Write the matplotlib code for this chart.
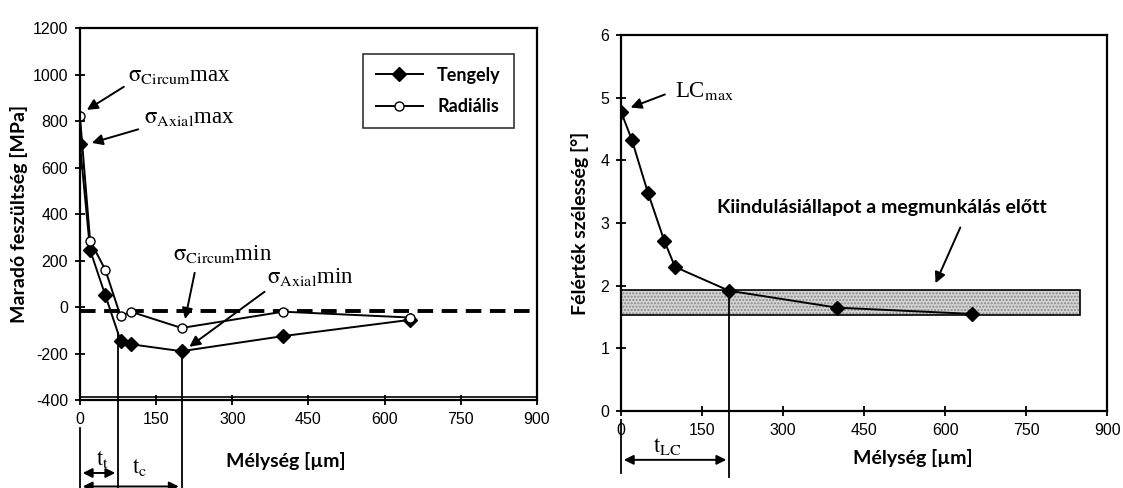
import matplotlib.pyplot as plt
from matplotlib.patches import Rectangle

plt.rcParams['mathtext.fontset'] = 'stix'
plt.rcParams['axes.unicode_minus'] = False

# --- bal oldali diagram: maradó feszültség ---
depth_t = [0, 20, 50, 80, 100, 200, 400, 650]
tengely = [700, 245, 50, -145, -160, -190, -125, -55]
depth_r = [0, 20, 50, 80, 100, 200, 400, 650]
radialis = [820, 285, 160, -40, -20, -90, -20, -45]
zero_line = -15
t_t = 75
t_c = 200

# --- jobb oldali diagram: félérték szélesség ---
depth_lc = [0, 20, 50, 80, 100, 200, 400, 650]
felertek = [4.78, 4.33, 3.48, 2.72, 2.3, 1.92, 1.65, 1.55]
band_low, band_high, band_end = 1.53, 1.93, 850
t_lc = 200

tick_font = {'family': 'Liberation Sans', 'size': 11.5}
lab_font = {'family': ['Lato', 'DejaVu Sans'], 'size': 14, 'weight': 'bold'}
ser = {'family': 'Liberation Serif', 'size': 16.5}
arr = dict(arrowstyle='-|>', color='black', lw=1.4, mutation_scale=16)
darr = dict(arrowstyle='<|-|>', color='black', lw=1.4, mutation_scale=14)

fig = plt.figure(figsize=(11.23, 4.88), dpi=100)
ax1 = fig.add_axes([0.0712, 0.1803, 0.407, 0.762])
ax2 = fig.add_axes([0.553, 0.1578, 0.433, 0.770])

for ax in (ax1, ax2):
    for s in ax.spines.values():
        s.set_linewidth(1.6)
    ax.tick_params(direction='inout', length=7, width=1.3, pad=5)


def arrow(ax, head, tail, props=arr):
    ax.annotate('', xy=head, xytext=tail, arrowprops=props, annotation_clip=False)


# bal
ax1.axhline(zero_line, color='black', lw=2.8, dashes=(4, 2.2))
ax1.axhline(-387, color='black', lw=1.2)
ax1.plot(depth_t, tengely, color='black', lw=1.4, marker='D', ms=7.5,
         mfc='black', mec='black', label='Tengely')
ax1.plot(depth_r, radialis, color='black', lw=1.4, marker='o', ms=6.5,
         mfc='white', mec='black', label='Radiális')
ax1.set_xlim(0, 900)
ax1.set_ylim(-400, 1200)
ax1.set_xticks(range(0, 901, 150))
ax1.set_yticks(range(-400, 1201, 200))
for lb in ax1.get_xticklabels() + ax1.get_yticklabels():
    lb.set_fontproperties(tick_font)
ax1.set_xlabel('Mélység [µm]', fontdict=lab_font)
ax1.xaxis.set_label_coords(0.45, -0.14)
ax1.set_ylabel('Maradó feszültség [MPa]', fontdict=lab_font, labelpad=3)

leg = ax1.legend(loc='upper left', bbox_to_anchor=(0.6, 0.955), frameon=True,
                 fancybox=False, edgecolor='black', handlelength=2.6,
                 borderpad=0.7, labelspacing=0.8,
                 prop={'family': ['Lato', 'DejaVu Sans'], 'weight': 'bold', 'size': 13})
leg.get_frame().set_linewidth(1.2)

ax1.text(95, 997, r'$\mathrm{\sigma}_{\mathrm{Circum}}$max', va='center', ha='left', **ser)
ax1.text(127, 815, r'$\mathrm{\sigma}_{\mathrm{Axial}}$max', va='center', ha='left', **ser)
arrow(ax1, (9, 842), (91, 954))
arrow(ax1, (18, 703), (120, 768))
ax1.text(184, 230, r'$\mathrm{\sigma}_{\mathrm{Circum}}$min', va='center', ha='left', **ser)
ax1.text(369, 130, r'$\mathrm{\sigma}_{\mathrm{Axial}}$min', va='center', ha='left', **ser)
arrow(ax1, (206, -63), (227, 159))
arrow(ax1, (211, -178), (368, 73))

# mélységjelölések a tengely alatt
ax1.plot([0, 0], [-520, -800], color='black', lw=1.3, clip_on=False)
ax1.plot([t_t, t_t], [-112, -800], color='black', lw=1.3, clip_on=False)
ax1.plot([t_c, t_c], [-190, -800], color='black', lw=1.3, clip_on=False)
arrow(ax1, (0, -714), (t_t, -714), darr)
arrow(ax1, (0, -772), (t_c, -772), darr)
ax1.text(45, -655, r'$\mathrm{t}_{\mathrm{t}}$', ha='center', va='center', **ser)
ax1.text(118, -688, r'$\mathrm{t}_{\mathrm{c}}$', ha='center', va='center', **ser)

# jobb
ax2.add_patch(Rectangle((0, band_low), band_end, band_high - band_low,
                        facecolor='#d4d4d4', edgecolor='#888888', hatch='.....', lw=0))
ax2.add_patch(Rectangle((0, band_low), band_end, band_high - band_low,
                        facecolor='none', edgecolor='black', lw=1.2))
ax2.plot(depth_lc, felertek, color='black', lw=1.4, marker='D', ms=7.5,
         mfc='black', mec='black')
ax2.set_xlim(0, 900)
ax2.set_ylim(0, 6)
ax2.set_xticks(range(0, 901, 150))
ax2.set_yticks(range(0, 7))
for lb in ax2.get_xticklabels() + ax2.get_yticklabels():
    lb.set_fontproperties(tick_font)
ax2.set_xlabel('Mélység [µm]', fontdict=lab_font)
ax2.xaxis.set_label_coords(0.6, -0.1)
ax2.set_ylabel('Félérték szélesség [°]', fontdict=lab_font, labelpad=8)

ax2.text(99, 5.11, r'LC$_{\mathrm{max}}$', va='center', ha='left', **ser)
arrow(ax2, (13, 4.83), (86, 5.07))
ax2.text(482, 3.25, 'Kiindulásiállapot a megmunkálás előtt', ha='center', va='center',
         family=['Lato', 'DejaVu Sans'], size=14, weight='bold')
arrow(ax2, (580, 2.0), (630, 2.97))

ax2.plot([0, 0], [-0.15, -0.99], color='black', lw=1.3, clip_on=False)
ax2.plot([t_lc, t_lc], [1.92, -1.05], color='black', lw=1.3, clip_on=False)
arrow(ax2, (0, -0.78), (t_lc, -0.78), darr)
ax2.text(86, -0.56, r'$\mathrm{t}_{\mathrm{LC}}$', ha='center', va='center', **ser)

fig.savefig('out.png', dpi=100)
